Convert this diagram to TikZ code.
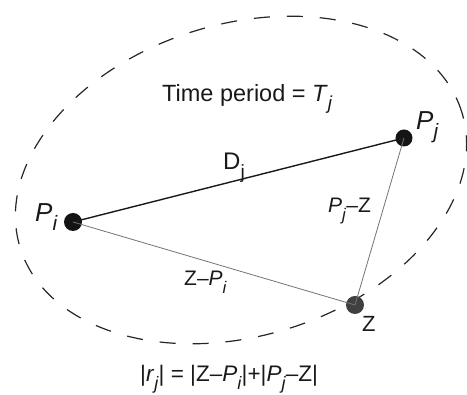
\documentclass[tikz,border=0pt]{standalone}
\usepackage{fontspec}
\setmainfont{Liberation Sans}
\newcommand\lsub[1]{\raisebox{-0.34em}{\scalebox{0.8}{#1}}}
\tikzset{
  dot/.style={circle,inner sep=0pt,minimum size=18pt,fill=#1},
  thickline/.style={line width=1.4pt,black!90},
  thinline/.style={line width=0.8pt,black!55},
  orbit/.style={line width=1.2pt,black!85,dash pattern=on 16pt off 17pt},
  lbl/.style={anchor=base west,inner sep=0pt,text=black!90},
}
\begin{document}
\begin{tikzpicture}[x=1pt,y=1pt]
\useasboundingbox (0,0) rectangle (467,395);
\draw[orbit] (241,215) ellipse[x radius=231pt,y radius=156pt,rotate=17];
\node[dot=black!92] (pi) at (73,173) {};
\node[dot=black!92,minimum size=17pt] (pj) at (404,257) {};
\node[dot=black!75] (z) at (355,90) {};
\draw[thickline] (pi.center) -- (pj.center);
\draw[thinline] (pi.center) -- (z.center);
\draw[thinline] (pj.center) -- (z.center);
\node[lbl,font=\fontsize{23.5}{25}\selectfont] (tp) at (162,293) {Time period = \textit{T}\lsub{\textit{j}}};
\node[lbl,font=\fontsize{26}{28}\selectfont] (lpi) at (35,173) {\textit{P}\lsub{\textit{i}}};
\node[lbl,font=\fontsize{26}{28}\selectfont] (lpj) at (416,265) {\textit{P}\lsub{\textit{j}}};
\node[lbl,font=\fontsize{24}{26}\selectfont] (ld) at (223,225) {D\lsub{j}};
\node[lbl,font=\fontsize{21}{23}\selectfont] (lzp) at (184,109) {Z–\textit{P}\lsub{\textit{i}}};
\node[lbl,font=\fontsize{21}{23}\selectfont] (lpz) at (328,182) {\textit{P}\lsub{\textit{j}}–Z};
\node[lbl,font=\fontsize{22}{24}\selectfont] (lz) at (362,63) {Z};
\node[lbl,font=\fontsize{22.5}{24}\selectfont] (form) at (140,13) {|\textit{r}\lsub{\textit{j}}| = |Z–\textit{P}\lsub{\textit{i}}|+|\textit{P}\lsub{\textit{j}}–Z|};
\end{tikzpicture}
\end{document}
